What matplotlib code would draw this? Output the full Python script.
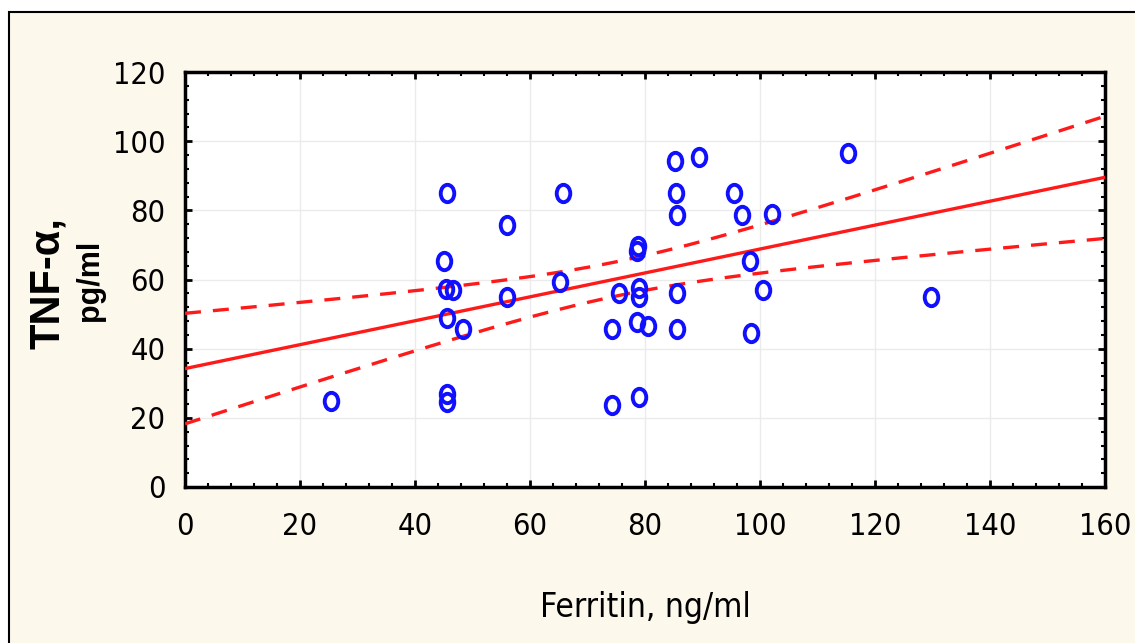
import numpy as np
import matplotlib
matplotlib.use("Agg")
import matplotlib.pyplot as plt
from matplotlib.path import Path
from matplotlib.patches import Rectangle
from matplotlib.ticker import MultipleLocator

# Data
ferritin = [25.4, 45.6, 45.0, 45.4, 46.6, 45.6, 48.3, 45.6, 45.6,
            56.0, 56.0, 65.7, 65.2,
            85.2, 89.4, 85.4, 95.5, 85.6, 96.9, 102.1, 115.3,
            78.8, 78.6, 98.3, 100.6, 129.8,
            75.4, 79.0, 79.0, 85.6,
            74.3, 78.6, 80.6, 85.6, 98.4,
            74.3, 79.0]
tnf_alpha = [24.9, 85.0, 65.4, 57.3, 57.0, 48.9, 45.7, 26.9, 24.6,
             75.8, 54.9, 85.0, 59.3,
             94.4, 95.5, 85.1, 85.1, 78.7, 78.7, 78.9, 96.5,
             69.7, 68.2, 65.4, 57.0, 55.0,
             56.2, 57.5, 55.0, 56.2,
             45.6, 47.8, 46.6, 45.6, 44.6,
             23.7, 25.9]
x_ticks = [0, 20, 40, 60, 80, 100, 120, 140, 160]
y_ticks = [0, 20, 40, 60, 80, 100, 120]

# 95% confidence band of the fit
ci_center_x = 75.6      # x where the band is narrowest
ci_min_halfwidth = 4.95  # half-width there
ci_spread = 0.201        # growth of half-width away from the centre

x = np.array(ferritin)
y = np.array(tnf_alpha)
slope, intercept = np.polyfit(x, y, 1)
xs = np.linspace(0, 160, 300)
fit = intercept + slope * xs
half = np.sqrt(ci_min_halfwidth ** 2 + (ci_spread * (xs - ci_center_x)) ** 2)

fig = plt.figure(figsize=(11.35, 6.43), dpi=100)
fig.patch.set_facecolor("white")
# cream panel with black frame
panel = Rectangle((9 / 1135, -0.01), 1.02, 1 - 12 / 643 + 0.01,
                  transform=fig.transFigure, facecolor="#fdf8ec",
                  edgecolor="black", linewidth=1.5, zorder=-10)
fig.patches.append(panel)

ax = fig.add_axes([185 / 1135, 1 - 487 / 643, 920 / 1135, 415 / 643])
ax.set_zorder(5)
ax.set_facecolor("white")

ax.grid(True, which="major", color="#ebebeb", linewidth=1.0, zorder=0)

# ellipse marker
circ = Path.unit_circle()
oval = Path(circ.vertices * np.array([0.78, 1.0]), circ.codes)
ax.plot(x, y, linestyle="none", marker=oval, markersize=12.5,
        markerfacecolor="none", markeredgecolor="#1010ff",
        markeredgewidth=2.8, zorder=4, clip_on=False)

red = "#ff1a1a"
ax.plot(xs, fit, color=red, linewidth=2.4, zorder=3)
ax.plot(xs, fit + half, color=red, linewidth=2.4, zorder=3,
        dashes=(4.8, 3.6))
ax.plot(xs, fit - half, color=red, linewidth=2.4, zorder=3,
        dashes=(4.8, 3.6))

ax.set_xlim(0, 160)
ax.set_ylim(0, 120)
ax.set_xticks(x_ticks)
ax.set_yticks(y_ticks)
ax.xaxis.set_minor_locator(MultipleLocator(4))
ax.yaxis.set_minor_locator(MultipleLocator(4))
ax.tick_params(which="major", direction="in", length=5, width=2,
               top=True, right=True, color="black")
ax.tick_params(which="minor", direction="in", length=3, width=1.5,
               top=True, right=True, color="black")
for sp in ax.spines.values():
    sp.set_linewidth(2.5)
    sp.set_color("black")

narrow = dict(family=["DejaVu Sans"], stretch="condensed")
ax.set_xticklabels([str(v) for v in x_ticks], size=22, **narrow)
ax.set_yticklabels([str(v) for v in y_ticks], size=22, **narrow)
ax.tick_params(axis="x", pad=18)
ax.tick_params(axis="y", pad=14)

fig.text(645 / 1135, 1 - 607 / 643, "Ferritin, ng/ml", ha="center",
         va="center", size=24, **narrow)
fig.text(48 / 1135, 1 - 283 / 643, "TNF-α,", rotation=90, ha="center",
         va="center", family=["Liberation Sans", "DejaVu Sans"],
         size=30, fontweight="bold")
fig.text(90 / 1135, 1 - 280 / 643, "pg/ml", rotation=90, ha="center",
         va="center", family=["Liberation Sans", "DejaVu Sans"],
         size=22, fontweight="bold")

fig.savefig("out.png", dpi=100, facecolor=fig.get_facecolor())
